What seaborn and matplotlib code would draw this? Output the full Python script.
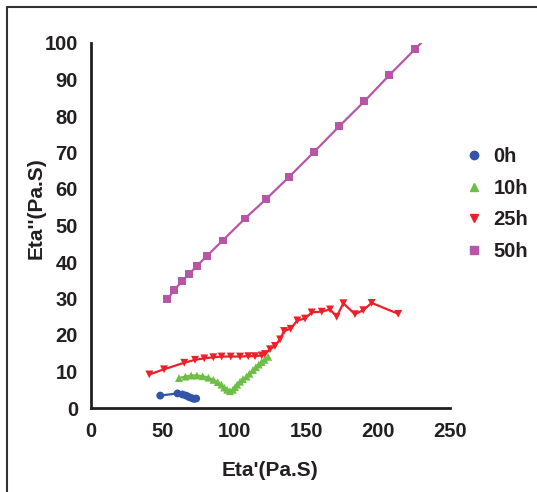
import numpy as np
import pandas as pd
import matplotlib
matplotlib.use("Agg")
import matplotlib.pyplot as plt
from matplotlib.lines import Line2D
from matplotlib.patches import Rectangle
import seaborn as sns

# ---- data ----
series_names = ["0h", "10h", "25h", "50h"]

x_0h = [48.5, 60.5, 64.0, 66.5, 68.5, 70.5, 72.0, 73.5]
y_0h = [3.4, 4.0, 3.7, 3.4, 3.0, 2.7, 2.5, 2.6]

x_10h = [61.5, 66.0, 70.0, 74.0, 78.0, 82.0, 85.5, 88.5, 91.0, 93.0, 95.0, 97.0,
         99.0, 100.5, 102.0, 104.0, 106.0, 108.5, 110.5, 113.0, 115.0, 117.0,
         119.0, 121.0, 123.5]
y_10h = [8.2, 8.6, 8.9, 8.9, 8.7, 8.3, 7.7, 7.1, 6.4, 5.6, 5.0, 4.6,
         5.0, 5.7, 6.4, 7.2, 7.9, 8.6, 9.4, 10.4, 11.2, 11.9,
         12.6, 13.2, 14.0]

x_25h = [40.9, 51.1, 65.2, 72.7, 79.1, 85.4, 91.2, 97.5, 104.0, 109.7, 114.4,
         119.1, 121.3, 124.8, 128.3, 131.8, 134.6, 139.2, 143.8, 149.2, 153.8,
         160.8, 166.6, 171.2, 175.8, 183.9, 189.7, 195.5, 214.0]
y_25h = [9.2, 10.6, 12.4, 13.2, 13.6, 13.9, 14.1, 14.1, 14.1, 14.2, 14.2,
         14.4, 14.8, 16.1, 17.0, 18.8, 21.1, 21.7, 24.0, 24.5, 26.2,
         26.4, 27.0, 25.0, 28.7, 25.7, 26.8, 28.8, 25.8]

x_50h = [53.4, 58.3, 63.8, 68.7, 73.9, 80.8, 91.9, 107.4, 122.0, 137.8, 155.6,
         173.0, 190.4, 207.8, 225.9, 243.9]
y_50h = [29.8, 32.3, 34.9, 36.7, 38.9, 41.6, 45.9, 51.9, 57.2, 63.2, 70.2,
         77.2, 84.0, 91.2, 98.4, 105.6]

x_ticks = [0, 50, 100, 150, 200, 250]
y_ticks = [0, 10, 20, 30, 40, 50, 60, 70, 80, 90, 100]
x_label = "Eta'(Pa.S)"
y_label = "Eta''(Pa.S)"

colors = {"0h": "#3355A8", "10h": "#6CBE45", "25h": "#EC2028", "50h": "#B955A8"}
markers = {"0h": "o", "10h": "^", "25h": "v", "50h": "s"}

frames = []
for name, xs, ys in [("0h", x_0h, y_0h), ("10h", x_10h, y_10h),
                     ("25h", x_25h, y_25h), ("50h", x_50h, y_50h)]:
    frames.append(pd.DataFrame({"x": xs, "y": ys, "series": name}))
df = pd.concat(frames, ignore_index=True)

# ---- figure ----
sns.set_style("white")
plt.rcParams["font.family"] = ["Liberation Sans", "DejaVu Sans"]
plt.rcParams["font.weight"] = "bold"

fig = plt.figure(figsize=(5.37, 4.92), dpi=100)
ax = fig.add_axes([90.5 / 537, 84 / 492, 359.5 / 537, 365 / 492])

sns.lineplot(data=df, x="x", y="y", hue="series", palette=colors,
             sort=False, estimator=None, linewidth=1.6, legend=False, ax=ax)
vis = df[df["y"] <= 100]
sns.scatterplot(data=vis, x="x", y="y", hue="series", style="series",
                palette=colors, markers=markers, s=32, linewidth=0,
                legend=False, ax=ax, zorder=3)

ax.set_xlim(0, 250)
ax.set_ylim(0, 100)
ax.set_xticks(x_ticks)
ax.set_yticks(y_ticks)
ax.tick_params(axis="both", which="major", direction="out", length=5,
               width=1.6, color="#231F20", labelsize=14.5, pad=4,
               labelcolor="#231F20")
ax.tick_params(axis="x", pad=5)
for lbl in ax.get_xticklabels() + ax.get_yticklabels():
    lbl.set_fontweight("bold")
for side in ["top", "right"]:
    ax.spines[side].set_visible(False)
for side in ["left", "bottom"]:
    ax.spines[side].set_linewidth(2.0)
    ax.spines[side].set_color("#231F20")

ax.set_xlabel(x_label, fontsize=15, fontweight="bold", color="#231F20")
ax.set_ylabel(y_label, fontsize=15, fontweight="bold", color="#231F20")
ax.xaxis.set_label_coords(0.5, -0.145)
ax.yaxis.set_label_coords(-0.125, 0.548)

handles = [Line2D([], [], marker=markers[n], color=colors[n], linestyle="none",
                  markersize=6) for n in series_names]
fig.legend(handles, series_names, loc="upper left",
           bbox_to_anchor=(448 / 537, 1 - 129 / 492), frameon=False,
           prop={"size": 14.5, "weight": "bold"}, handlelength=0.8,
           handletextpad=0.55, labelspacing=0.62, labelcolor="#231F20")

# outer frame of the original image
fig.patches.append(Rectangle((7 / 537, -0.1), 1.2, 1 - 7 / 492 + 0.1,
                             transform=fig.transFigure, fill=False,
                             edgecolor="#333333", linewidth=1.5))

fig.savefig("out.png", dpi=100)
